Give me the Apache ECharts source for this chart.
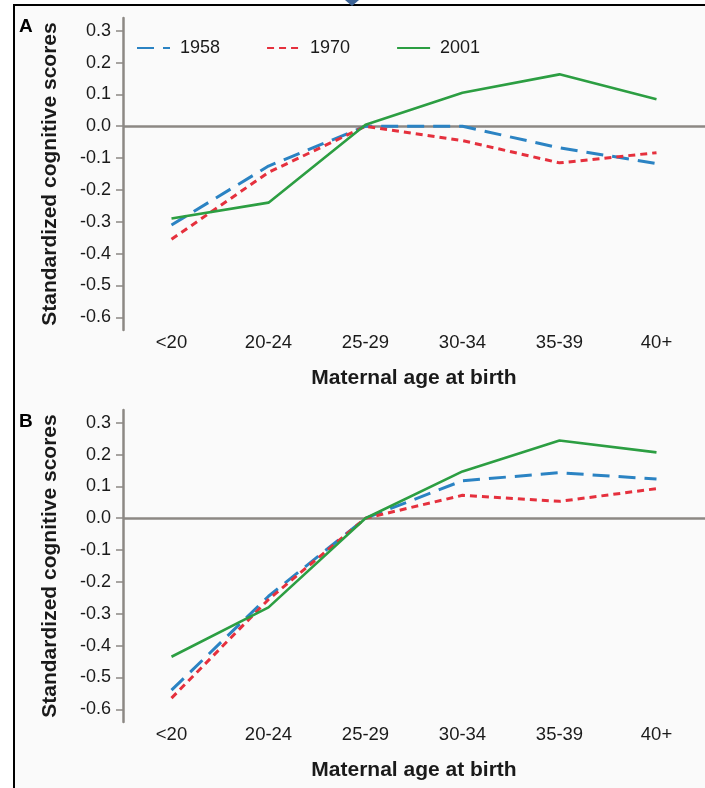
<!DOCTYPE html>
<html>
<head>
<meta charset="utf-8">
<script src="https://cdn.jsdelivr.net/npm/echarts@6/dist/echarts.min.js"></script>
<style>
  html, body { margin: 0; padding: 0; background: #fff; }
  #chart { width: 705px; height: 788px; }
</style>
</head>
<body>
<div id="chart"></div>
<script>
// maternal age groups and standardized scores
const ages = ["<20", "20-24", "25-29", "30-34", "35-39", "40+"];
const cohorts = ["1958", "1970", "2001"];

const panelA1958 = [-0.31, -0.125, 0.0, 0.0, -0.068, -0.117];
const panelA1970 = [-0.355, -0.145, 0.0, -0.045, -0.115, -0.083];
const panelA2001 = [-0.29, -0.24, 0.005, 0.105, 0.163, 0.085];

const panelB1958 = [-0.54, -0.245, 0.0, 0.118, 0.143, 0.123];
const panelB1970 = [-0.565, -0.255, 0.0, 0.072, 0.053, 0.093];
const panelB2001 = [-0.435, -0.28, 0.0, 0.147, 0.244, 0.207];

const yTicks = [-0.6, -0.5, -0.4, -0.3, -0.2, -0.1, 0.0, 0.1, 0.2, 0.3];

const FONT = "Liberation Sans";
const AXIS_GREY = "#8c8884";
const TEXT = "#1a1a1a";

const lineStyles = {
  "1958": { color: "#2b83c3", width: 3, type: [17, 9] },
  "1970": { color: "#e5303d", width: 3, type: [7, 5] },
  "2001": { color: "#2c9e42", width: 2.6, type: "solid" },
};

function makeYAxis(gridIndex) {
  return {
    gridIndex,
    type: "value",
    min: -0.64,
    max: 0.34,
    name: "Standardized cognitive scores",
    nameLocation: "middle",
    nameGap: 62,
    nameTextStyle: { fontFamily: FONT, fontSize: 21, fontWeight: "bold", color: TEXT },
    axisLine: { show: true, lineStyle: { color: AXIS_GREY, width: 2.5 } },
    axisTick: { show: true, length: 7, customValues: yTicks, lineStyle: { color: AXIS_GREY, width: 1.5 } },
    axisLabel: {
      customValues: yTicks,
      margin: 12,
      fontFamily: FONT,
      fontSize: 18,
      color: TEXT,
      formatter: (v) => v.toFixed(1),
    },
    splitLine: { show: false },
  };
}

function makeXAxis(gridIndex) {
  return {
    gridIndex,
    type: "category",
    data: ages,
    boundaryGap: true,
    name: "Maternal age at birth",
    nameLocation: "middle",
    nameGap: 38,
    nameTextStyle: { fontFamily: FONT, fontSize: 21, fontWeight: "bold", color: TEXT },
    axisLine: { show: false },
    axisTick: { show: false },
    axisLabel: { margin: 3, fontFamily: FONT, fontSize: 18.5, color: TEXT },
    splitLine: { show: false },
  };
}

function makeSeries(name, values, idx, withZero) {
  const s = {
    name,
    type: "line",
    xAxisIndex: idx,
    yAxisIndex: idx,
    data: values,
    symbol: "none",
    lineStyle: lineStyles[name],
    itemStyle: { color: lineStyles[name].color },
    z: name === "2001" ? 4 : 3,
  };
  if (withZero) {
    s.markLine = {
      silent: true,
      symbol: ["none", "none"],
      label: { show: false },
      lineStyle: { color: AXIS_GREY, type: "solid", width: 2.5 },
      data: [{ yAxis: 0 }],
      z: 1,
    };
  }
  return s;
}

const chart = echarts.init(document.getElementById("chart"));
chart.setOption({
  backgroundColor: "#ffffff",
  animation: false,
  graphic: [
    { type: "rect", silent: true, z: -10, shape: { x: 14, y: 5, width: 700, height: 790 }, style: { fill: "#fafafa" } },
    { type: "line", silent: true, shape: { x1: 13, y1: 5, x2: 705, y2: 5 }, style: { stroke: "#000", lineWidth: 2 } },
    { type: "line", silent: true, shape: { x1: 14, y1: 4, x2: 14, y2: 788 }, style: { stroke: "#000", lineWidth: 2 } },
    { type: "polygon", silent: true, shape: { points: [[345, 0], [359, 0], [352, 6]] }, style: { fill: "#3c6396" } },
  ],
  title: [
    { text: "A", left: 14, top: 12, textStyle: { fontFamily: FONT, fontSize: 19, fontWeight: "bold", color: "#000" } },
    { text: "B", left: 14, top: 407, textStyle: { fontFamily: FONT, fontSize: 19, fontWeight: "bold", color: "#000" } },
  ],
  legend: {
    data: cohorts,
    left: 131,
    top: 34,
    itemWidth: 33,
    itemHeight: 14,
    itemGap: 46,
    selectedMode: false,
    itemStyle: { opacity: 0 },
    textStyle: { fontFamily: FONT, fontSize: 18, color: TEXT, padding: [0, 0, 0, 5] },
  },
  grid: [
    { left: 123, top: 18, width: 584, height: 312 },
    { left: 123, top: 410, width: 584, height: 312 },
  ],
  xAxis: [makeXAxis(0), makeXAxis(1)],
  yAxis: [makeYAxis(0), makeYAxis(1)],
  series: [
    makeSeries("1958", panelA1958, 0, true),
    makeSeries("1970", panelA1970, 0, false),
    makeSeries("2001", panelA2001, 0, false),
    makeSeries("1958", panelB1958, 1, true),
    makeSeries("1970", panelB1970, 1, false),
    makeSeries("2001", panelB2001, 1, false),
  ],
});
window.addEventListener("resize", () => chart.resize());
</script>
</body>
</html>
